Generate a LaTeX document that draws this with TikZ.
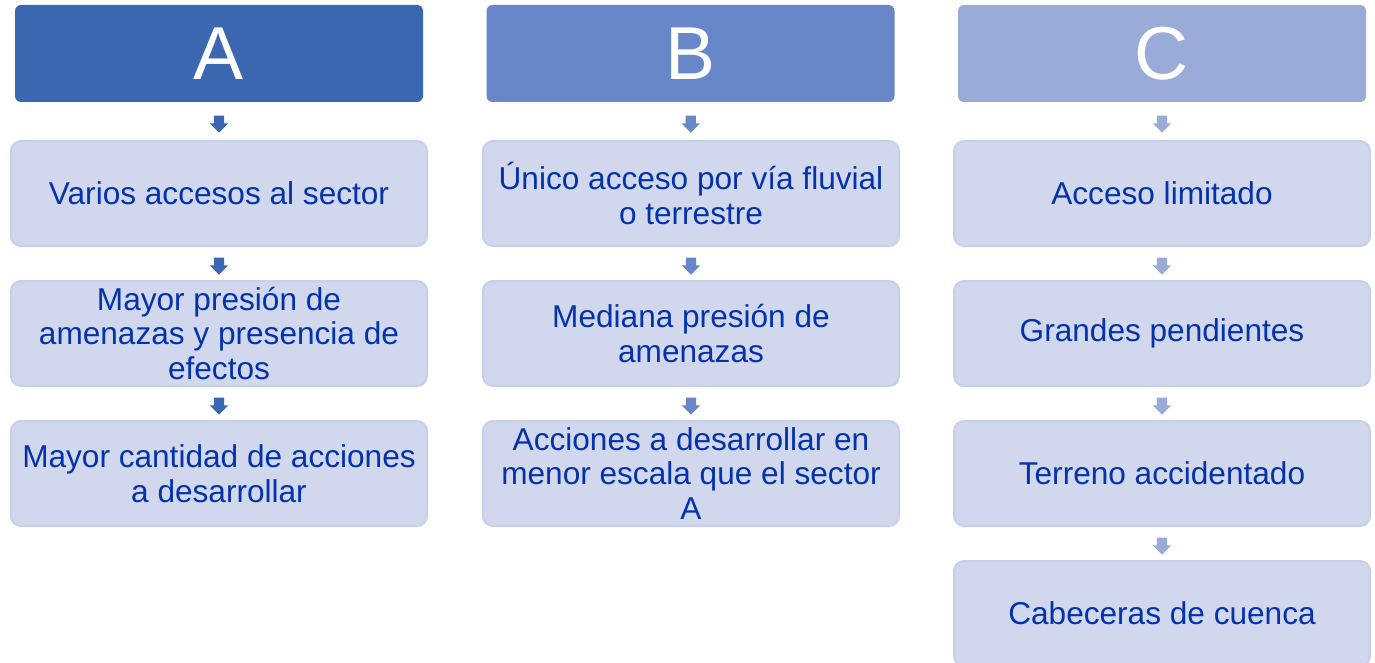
\documentclass[tikz,border=0pt]{standalone}
\usepackage{fontspec}
\setmainfont{Liberation Sans}
\usetikzlibrary{shapes.arrows}

\definecolor{hdrA}{RGB}{58,103,176}
\definecolor{hdrB}{RGB}{103,135,200}
\definecolor{hdrC}{RGB}{154,171,216}
\definecolor{boxfill}{RGB}{209,216,237}
\definecolor{boxline}{RGB}{199,207,233}
\definecolor{txtblue}{RGB}{4,50,170}

\tikzset{
	header/.style={fill=#1, rounded corners=6pt, minimum width=408pt, minimum height=97pt,
		inner sep=0pt, outer sep=0pt, text=white, font=\fontsize{75}{80}\selectfont},
	item/.style={draw=boxline, line width=2pt, fill=boxfill, rounded corners=10pt,
		minimum width=416pt, minimum height=105pt, inner sep=0pt, outer sep=0pt,
		align=center, text=txtblue, font=\fontsize{31.6}{34.5}\selectfont},
	down/.style={single arrow, draw=none, fill=#1, rotate=-90, minimum height=17pt,
		inner xsep=0pt, inner ysep=5pt, single arrow head extend=4pt}
}

\begin{document}
\begin{tikzpicture}[x=1pt, y=-1pt]
	\useasboundingbox (0,0) rectangle (1375,663);

	% Headers
	\node[header=hdrA] (hA) at (219,53.5) {A};
	\node[header=hdrB] (hB) at (690.5,53.5) {B};
	\node[header=hdrC] (hC) at (1162,53.5) {C};

	% Column A
	\node[item] (a1) at (219,193.5) {Varios accesos al sector};
	\node[item] (a2) at (219,333.5) {Mayor presión de\\amenazas y presencia de\\efectos};
	\node[item] (a3) at (219,473.5) {Mayor cantidad de acciones\\a desarrollar};

	% Column B
	\node[item] (b1) at (691,193.5) {Único acceso por vía fluvial\\o terrestre};
	\node[item] (b2) at (691,333.5) {Mediana presión de\\amenazas};
	\node[item] (b3) at (691,473.5) {Acciones a desarrollar en\\menor escala que el sector\\A};

	% Column C
	\node[item] (c1) at (1162,193.5) {Acceso limitado};
	\node[item] (c2) at (1162,333.5) {Grandes pendientes};
	\node[item] (c3) at (1162,473.5) {Terreno accidentado};
	\node[item] (c4) at (1162,613.5) {Cabeceras de cuenca};

	% Arrows
	\path (hA) -- (a1) node[midway, down=hdrA] {};
	\path (a1) -- (a2) node[midway, down=hdrA] {};
	\path (a2) -- (a3) node[midway, down=hdrA] {};
	\path (hB) -- (b1) node[midway, down=hdrB] {};
	\path (b1) -- (b2) node[midway, down=hdrB] {};
	\path (b2) -- (b3) node[midway, down=hdrB] {};
	\path (hC) -- (c1) node[midway, down=hdrC] {};
	\path (c1) -- (c2) node[midway, down=hdrC] {};
	\path (c2) -- (c3) node[midway, down=hdrC] {};
	\path (c3) -- (c4) node[midway, down=hdrC] {};
\end{tikzpicture}
\end{document}
